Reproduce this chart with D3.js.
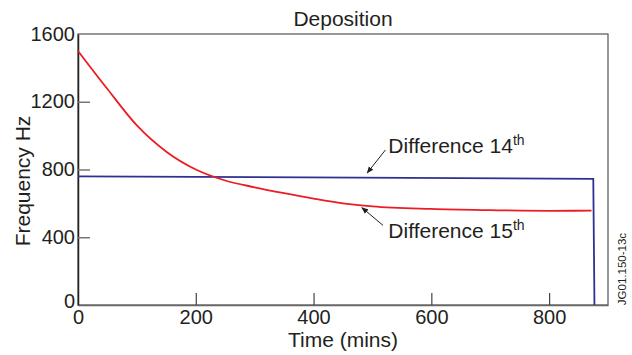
<!DOCTYPE html>
<html>
<head>
<meta charset="utf-8">
<script src="https://cdn.jsdelivr.net/npm/d3@7"></script>
<style>
  body { margin: 0; background: #fff; }
  text { font-family: "Liberation Sans", Arial, Helvetica, sans-serif; fill: #231f20; }
</style>
</head>
<body>
<svg id="chart" width="632" height="355"></svg>
<script>
// time (mins) and frequency values
var redTime  = [0, 50, 100, 150, 200, 250, 300, 350, 400, 450, 500, 600, 700, 800, 872];
var redFreq  = [1500, 1275, 1060, 905, 800, 735, 695, 660, 628, 600, 582, 567, 560, 556, 557];
var blueTime = [0, 875, 877];
var blueFreq = [760, 745, 0];
var xTicks = [0, 200, 400, 600, 800];
var yTicks = [0, 400, 800, 1200, 1600];

// annotations: text position, arrow tail and tip in data units
var notes = [
  { label: 'Difference 14', sup: 'th', tx: 527, ty: 900, x1: 522, y1: 915, x2: 491, y2: 779 },
  { label: 'Difference 15', sup: 'th', tx: 527, ty: 394, x1: 518, y1: 470, x2: 482, y2: 575 }
];

var margin = { top: 34, right: 24, bottom: 50, left: 78 },
    width = 632 - margin.left - margin.right,
    height = 305 - margin.top;

var svg = d3.select('#chart');

svg.append('defs').append('marker')
    .attr('id', 'arrow')
    .attr('viewBox', '0 0 10 10')
    .attr('refX', 9).attr('refY', 5)
    .attr('markerWidth', 7).attr('markerHeight', 7)
    .attr('orient', 'auto')
  .append('path')
    .attr('d', 'M0,1 L10,5 L0,9 z')
    .attr('fill', '#231f20');

var g = svg.append('g')
    .attr('transform', 'translate(' + margin.left + ',' + margin.top + ')');

var x = d3.scaleLinear().domain([0, 900]).range([0, width]);
var y = d3.scaleLinear().domain([0, 1600]).range([height, 0]);

// frame
g.append('rect')
    .attr('x', 0).attr('y', 0)
    .attr('width', width).attr('height', height)
    .attr('fill', 'none')
    .attr('stroke', '#555')
    .attr('stroke-width', 1.2);

// x axis (ticks pointing inward)
var xAxis = d3.axisBottom(x).tickValues(xTicks).tickFormat(d3.format('d'))
    .tickSizeInner(-12).tickSizeOuter(0).tickPadding(3);
var gx = g.append('g')
    .attr('transform', 'translate(0,' + height + ')')
    .call(xAxis);
gx.select('.domain').attr('stroke', '#666').attr('stroke-width', 1.5);
gx.selectAll('.tick line').attr('stroke', '#444').attr('stroke-width', 1.2)
    .filter(function (d) { return d === 0; }).remove();
gx.selectAll('.tick text').attr('font-size', 20).attr('dy', '0.8em')
    .style('font-family', '"Liberation Sans", Arial, sans-serif').attr('fill', '#231f20');

// y axis
var yAxis = d3.axisLeft(y).tickValues(yTicks).tickFormat(d3.format('d'))
    .tickSizeInner(-12).tickSizeOuter(0).tickPadding(3);
var gy = g.append('g').call(yAxis);
gy.select('.domain').attr('stroke', '#222').attr('stroke-width', 1.5);
gy.selectAll('.tick line').attr('stroke', '#777').attr('stroke-width', 1.5)
    .filter(function (d) { return d === 0 || d === 1600; }).remove();
gy.selectAll('.tick text').attr('font-size', 20)
    .style('font-family', '"Liberation Sans", Arial, sans-serif').attr('fill', '#231f20')
    .attr('dy', function (d) { return d === 0 ? '0.1em' : '0.3em'; });

// series
var line = d3.line()
    .x(function (d) { return x(d[0]); })
    .y(function (d) { return y(d[1]); });

g.append('path')
    .datum(d3.zip(blueTime, blueFreq))
    .attr('d', line)
    .attr('fill', 'none')
    .attr('stroke', '#2e3192')
    .attr('stroke-width', 1.8);

g.append('path')
    .datum(d3.zip(redTime, redFreq))
    .attr('d', line.curve(d3.curveMonotoneX))
    .attr('fill', 'none')
    .attr('stroke', '#ed1c24')
    .attr('stroke-width', 1.8);

// annotations
notes.forEach(function (n) {
  g.append('line')
      .attr('x1', x(n.x1)).attr('y1', y(n.y1))
      .attr('x2', x(n.x2)).attr('y2', y(n.y2))
      .attr('stroke', '#231f20')
      .attr('stroke-width', 1)
      .attr('marker-end', 'url(#arrow)');
  var t = g.append('text')
      .attr('x', x(n.tx)).attr('y', y(n.ty))
      .attr('font-size', 21);
  t.append('tspan').text(n.label);
  t.append('tspan').attr('dy', -8).attr('font-size', 14).text(n.sup);
});

// titles
svg.append('text')
    .attr('x', margin.left + width / 2).attr('y', 26)
    .attr('text-anchor', 'middle')
    .attr('font-size', 21)
    .text('Deposition');

svg.append('text')
    .attr('x', margin.left + width / 2).attr('y', 347)
    .attr('text-anchor', 'middle')
    .attr('font-size', 21)
    .text('Time (mins)');

svg.append('text')
    .attr('transform', 'translate(30,181) rotate(-90)')
    .attr('text-anchor', 'middle')
    .attr('font-size', 21)
    .text('Frequency Hz');

svg.append('text')
    .attr('transform', 'translate(626,269) rotate(-90)')
    .attr('text-anchor', 'middle')
    .attr('font-size', 11.5)
    .text('JG01.150-13c');
</script>
</body>
</html>
